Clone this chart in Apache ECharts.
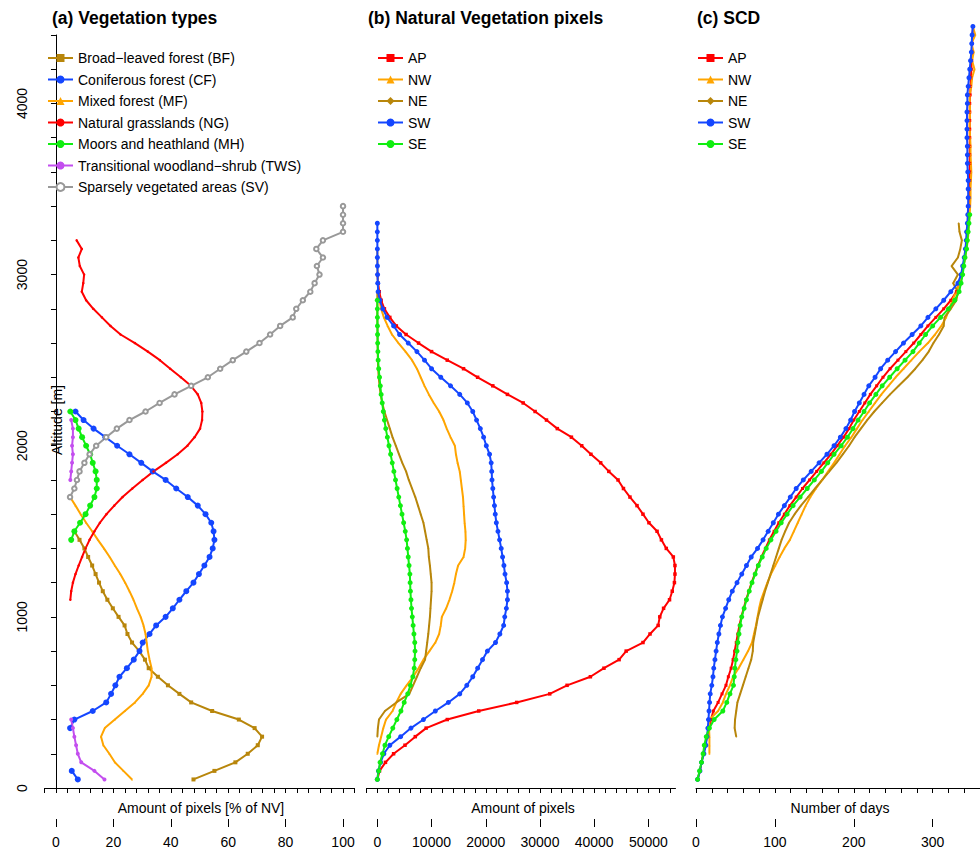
<!DOCTYPE html>
<html><head><meta charset="utf-8">
<script src="https://cdn.jsdelivr.net/npm/echarts@6/dist/echarts.min.js"></script>
<style>html,body{margin:0;padding:0;background:#fff}#c{width:980px;height:852px}</style>
</head><body><div id="c"></div><script>
// Altitude levels [m]
const ALT = [50,100,150,200,250,300,350,400,450,500,550,600,650,700,750,800,850,900,950,1000,
1050,1100,1150,1200,1250,1300,1350,1400,1450,1500,1550,1600,1650,1700,1750,1800,1850,1900,1950,2000,
2050,2100,2150,2200,2250,2300,2350,2400,2450,2500,2550,2600,2650,2700,2750,2800,2850,2900,2950,3000,
3050,3100,3150,3200,3250,3300,3350,3400,3450,3500,3550,3600,3650,3700,3750,3800,3850,3900,3950,4000,
4050,4100,4150,4200,4250,4300,4350,4400,4450];

// (a) Vegetation types, % of NV (start altitude, values every 50 m)
const BF_start = 50;
const BF = [47.9,55.2,62.5,66.8,70.3,71.8,69.2,63.7,54.4,47.1,43.0,39.0,35.5,32.3,31.0,29.0,26.5,24.9,23.9,21.8,
19.8,17.9,16.3,15.0,13.8,12.6,11.2,9.9,8.2,6.4];
const CF_start = 50;
const CF = [7.6,5.5,null,null,null,null,4.9,6.4,12.8,17.5,19.2,20.7,22.1,24.7,27.1,29.1,30.2,32.6,34.9,38.2,
40.7,43.0,45.4,47.9,49.8,51.7,53.5,54.6,55.2,54.9,54.1,52.1,49.4,45.9,41.9,38.2,33.7,29.7,25.6,21.3,17.2,13.1,9.6,6.8];
const MF_start = 50;
const MF = [26.5,23.5,20.5,18.6,16.5,15.7,17.0,20.5,24.0,27.5,30.2,32.3,33.3,33.3,32.6,32.0,31.6,31.2,30.5,29.5,
28.2,27.0,25.6,24.1,22.4,20.5,18.7,16.7,14.6,12.6,10.5,8.6,6.8,4.9];
const NG_start = 1100;
const NG = [5.0,5.3,5.9,6.8,7.9,9.1,10.3,11.7,13.4,15.3,17.6,20.3,23.2,26.6,30.2,34.0,38.3,42.4,45.8,48.3,
50.2,50.9,51.0,50.6,49.4,47.0,43.5,39.8,36.2,32.0,27.5,22.5,19.0,16.0,13.0,10.5,9.0,9.5,9.8,8.3,7.8,9.0,7.2];
const MH_start = 1450;
const MH = [5.3,6.4,8.4,10.3,11.9,13.4,14.2,14.2,13.8,12.8,11.9,10.5,9.1,7.9,6.8,5.0];
const TWS_start = 50;
const TWS = [16.9,13.4,8.8,7.6,7.0,6.4,5.9,5.3,
null,null,null,null,null,null,null,null,null,null,null,null,null,null,null,null,null,null,null,null,null,null,null,null,null,null,null,
5.0,5.3,5.6,5.9,5.6,5.9,5.9,5.3];
const SV_start = 1700;
const SV = [4.9,6.4,7.3,8.2,9.9,11.7,14.0,17.5,21.2,25.6,31.2,36.1,41.3,47.1,52.9,57.2,61.6,66.3,70.9,74.6,
78.1,82.5,83.7,86.0,88.6,90.1,91.8,90.9,93.0,90.7,93.0,100,100,100,100];

// (b) Natural vegetation pixels
const AP_b_start = 50;
const AP_b = [0,400,1500,3000,5100,7000,9000,12900,18700,25700,31800,35000,39300,41800,44600,45900,49000,50300,51800,52100,
52800,53900,54400,54800,54900,54900,54600,53300,52400,51600,50100,49000,47900,46600,45400,44400,42700,41200,39400,37700,
35800,33200,31200,29100,26900,24000,21300,18500,15900,12900,10000,7600,5300,3500,2300,1300,700,350,150,50];
const NW_b_start = 200;
const NW_b = [0,300,700,1100,1600,2800,3500,4300,5400,6600,7600,8500,9600,10700,11400,11700,11900,12700,13300,13800,
14200,14500,14900,15900,16200,16300,16250,16100,16000,15900,15800,15600,15400,15200,14800,14500,14300,13500,12800,12200,
11400,10400,9500,8700,8000,7300,6400,5200,3900,2700,1900,1200,700,400,200,100,50,20,10,0];
const NE_b_start = 300;
const NE_b = [0,100,300,1400,3500,5900,6600,7300,8000,8800,9000,9200,9400,9550,9700,9800,9900,10000,10000,9850,
9700,9500,9400,9100,8800,8500,8000,7500,7000,6400,5800,5300,4600,4000,3400,2800,2300,1800,1300,900,
600,400,250,150,100,70,50,30,20,10,5,0,0];
const SW_b_start = 50;
const SW_b = [0,200,600,1200,2300,4300,6200,8500,10700,13100,15200,16500,17600,18500,19400,20300,21800,22600,23300,23500,
23800,24000,24000,23850,23550,23350,23100,22850,22550,22250,21950,21750,21600,21450,21300,21150,21100,21000,20700,20100,
19600,19000,18300,17600,16600,15200,13500,11700,10000,8700,7300,5700,4100,3000,1800,1000,450,150,80,40,20,10,5,2,1,0];
const SE_b_start = 50;
const SE_b = [0,250,500,950,1400,2100,2850,3600,4350,4950,5600,6100,6550,6800,6900,6950,6900,6750,6600,6450,
6300,6200,6100,6050,6000,5850,5700,5550,5400,5150,4850,4550,4250,3950,3650,3350,3050,2750,2450,2150,
1850,1550,1300,1100,900,700,550,400,250,150,100,60,40,20,10,5,0];

// (c) SCD, number of days
const AP_c_start = 50;
const AP_c = [2,5,7,9.5,11.5,14,17,19,22,28,33,38,41,44.5,47,49,51,53,55,57.5,
60.5,63.5,67,70.5,74.5,78.5,83,88,93,99,105,112,119,127,135,144,153,162,171,179,
187,194,200,207,214,221,229,237,246,256,266,276,285,294,304,314,323,330,334,337,
339,341,342,343,344,345,345.5,346,346,346.5,347,347,347,347,347,347,347,347,347,347,
347.5,348,348.5,349,349.5,350,350,350.5,351];
const NW_c_start = 200;
const NW_c = [17,17,17,16.5,17,28,34,38,43,47,54,60,66,71,73.5,76,78,80,82.5,86.5,
90.5,95,100.5,106,112,119,124,129,134,139,145,152,160,167.5,175,182,189,197,204,211,
219,227,235,244,253,263,273,283,294,303,311,317,321,325,330,334,337,339,341,343,
344.5,345.5,346,347,347.5,348,348,348.5,349,348.5,348,348,347.5,347,347,347.5,347,347,349,350,
353,350,352,349,354,351];
const NE_c_start = 300;
const NE_c = [51,49,49.5,51,52.5,56,59.5,63,66.5,70,72,72.5,74.5,76.5,78.5,81.5,84.5,87.5,91,94.5,
98,101.5,105,108.5,113,118,125,133,142,151,160,169,178,186,194,201,209,217,226,236,
246,257,268,278,287,295,301,308,314,315,323,330,332,326,332,324,332,335,337,334,333];
const SW_c_start = 50;
const SW_c = [2,5,7,10,12.5,14,15,15.8,16.5,17.2,18,20,21.5,22.5,24,25.5,27,29,31,33.5,
37.5,41.5,46,52,58,64,70,78,85,91.5,98,104.5,112,119.5,127,136,146,156,166,175,
183,190,196,201,207,213,219,227,234,243,253,263,274,285,294,304,314,323,332,336,
338,340,341.5,342.5,343,344,344.5,345,345,345,345,344.5,344,344,344,343.5,343.5,343.5,343.5,344,
344,345,346,347,348,349,349.5,350,351];
const SE_c_start = 50;
const SE_c = [2,4.5,7,9,10.5,13,17,23,34,39,43,47.5,48.5,49.3,50.5,52,53,54.5,56,58,
61,64,67.5,71,75,79,84,89,95,101.5,108,115.5,123,132,141,150,159,167,175,184,
192,199,205.5,213,220,228,236,245.5,255,265,275,283,291,300,310,320,328,333.5,336,338,
339.5,341,343,344,345,346,347];

// Axis ticks / labels
const Y_TICKS_LABELS = [0,1000,2000,3000,4000];
const XA_TICKS = [-4,0,4,8,12,16,20,24,28,32,36,40,44,48,52,56,60,64,68,72,76,80,84,88,92,96,100,104];
const XA_MAJOR = [0,20,40,60,80,100];
const XB_TICKS = [-2000,0,2000,4000,6000,8000,10000,12000,14000,16000,18000,20000,22000,24000,26000,28000,30000,
32000,34000,36000,38000,40000,42000,44000,46000,48000,50000,52000,54000];
const XB_MAJOR = [0,10000,20000,30000,40000,50000];
const XC_TICKS = [0,20,40,60,80,100,120,140,160,180,200,220,240,260,280,300,320,340,360];
const XC_MAJOR = [0,100,200,300];

const FONT = '"Liberation Sans", Arial, Helvetica, sans-serif';
const C = {gold:'#B8860B', blue:'#1446FF', orange:'#FFA500', red:'#FF0000', green:'#11EE11', purple:'#C34EEF', gray:'#999999'};

function pts(start, vals){
  const i0 = ALT.indexOf(start);
  return vals.map((v,i)=> v===null ? ['-', ALT[i0+i]] : [v, ALT[i0+i]]);
}
function ser(name, xi, start, vals, color, symbol, size, extraItem){
  return {
    type:'line', name:name, xAxisIndex:xi, yAxisIndex:xi/2, data:pts(start, vals),
    symbol:symbol, symbolSize:size, showSymbol:true, showAllSymbol:true, connectNulls:false,
    clip:false, silent:true, animation:false,
    lineStyle:{color:color, width:2}, itemStyle:Object.assign({color:color, borderWidth:0}, extraItem||{}),
    emphasis:{disabled:true}
  };
}
function xaxes(gi, min, max, ticks, major){
  const base = {type:'value', gridIndex:gi, min:min, max:max, position:'bottom', offset:31, splitLine:{show:false}};
  return [
    Object.assign({}, base, {axisLine:{show:true, lineStyle:{color:'#000', width:1}},
      axisTick:{show:true, customValues:ticks, length:5, lineStyle:{color:'#000', width:1}},
      axisLabel:{show:false}}),
    Object.assign({}, base, {axisLine:{show:false},
      axisTick:{show:true, customValues:major, length:8, lineStyle:{color:'#000', width:1}},
      axisLabel:{show:true, customValues:major, formatter:v=>String(v), margin:16, fontSize:14, color:'#000', fontFamily:FONT}})
  ];
}
const yBase = {type:'value', min:0, max:4400, interval:200, splitLine:{show:false}};
const legendBase = {orient:'vertical', top:51, padding:0, itemWidth:25, itemHeight:10, itemGap:7.5,
  textStyle:{fontSize:14, lineHeight:14, color:'#000', fontFamily:FONT}, selectedMode:false};

const option = {
  backgroundColor:'#fff',
  animation:false,
  grid:[
    {left:44.5, width:310, top:35, bottom:64},
    {left:366.5, width:309, top:35, bottom:64},
    {left:696, width:284, top:35, bottom:64}
  ],
  xAxis:[].concat(
    xaxes(0,-4,104,XA_TICKS,XA_MAJOR),
    xaxes(1,-2000,55000,XB_TICKS,XB_MAJOR),
    xaxes(2,0,360,XC_TICKS,XC_MAJOR)
  ),
  yAxis:[
    Object.assign({}, yBase, {gridIndex:0, axisLine:{show:true, lineStyle:{color:'#000', width:1}},
      axisTick:{show:true, length:5, lineStyle:{color:'#000', width:1}},
      axisLabel:{customValues:Y_TICKS_LABELS, rotate:90, margin:16, fontSize:14, color:'#000', fontFamily:FONT, formatter:v=>String(v)}}),
    Object.assign({}, yBase, {gridIndex:1, show:false}),
    Object.assign({}, yBase, {gridIndex:2, show:false})
  ],
  legend:[
    Object.assign({}, legendBase, {left:47, data:['Broad\u2212leaved forest (BF)','Coniferous forest (CF)','Mixed forest (MF)','Natural grasslands (NG)','Moors and heathland (MH)','Transitional woodland\u2212shrub (TWS)','Sparsely vegetated areas (SV)']}),
    Object.assign({}, legendBase, {left:377, data:['AP','NW','NE','SW','SE']}),
    Object.assign({}, legendBase, {left:697, data:['AP','NW','NE','SW','SE']})
  ],
  graphic:[
    {type:'text', x:52, y:18, style:{text:'(a) Vegetation types', font:'bold 17.5px '+FONT, fill:'#000', verticalAlign:'middle'}},
    {type:'text', x:368, y:18, style:{text:'(b) Natural Vegetation pixels', font:'bold 17.5px '+FONT, fill:'#000', verticalAlign:'middle'}},
    {type:'text', x:697, y:18, style:{text:'(c) SCD', font:'bold 17.5px '+FONT, fill:'#000', verticalAlign:'middle'}},
    {type:'text', x:201, y:808, style:{text:'Amount of pixels [% of NV]', font:'14px '+FONT, fill:'#000', align:'center', verticalAlign:'middle'}},
    {type:'text', x:523, y:808, style:{text:'Amount of pixels', font:'14px '+FONT, fill:'#000', align:'center', verticalAlign:'middle'}},
    {type:'text', x:840, y:808, style:{text:'Number of days', font:'14px '+FONT, fill:'#000', align:'center', verticalAlign:'middle'}},
    {type:'text', x:57, y:420, rotation:Math.PI/2, style:{text:'Altitude [m]', font:'14px '+FONT, fill:'#000', align:'center', verticalAlign:'middle'}}
  ],
  series:[
    ser('Broad\u2212leaved forest (BF)',0,BF_start,BF,C.gold,'rect',4),
    ser('Coniferous forest (CF)',0,CF_start,CF,C.blue,'circle',6),
    ser('Mixed forest (MF)',0,MF_start,MF,C.orange,'triangle',2),
    ser('Natural grasslands (NG)',0,NG_start,NG,C.red,'circle',2.5),
    ser('Moors and heathland (MH)',0,MH_start,MH,C.green,'circle',6),
    ser('Transitional woodland\u2212shrub (TWS)',0,TWS_start,TWS,C.purple,'circle',4),
    ser('Sparsely vegetated areas (SV)',0,SV_start,SV,C.gray,'emptyCircle',4.5,{borderWidth:1.5}),
    ser('AP',2,AP_b_start,AP_b,C.red,'rect',3.5),
    ser('NW',2,NW_b_start,NW_b,C.orange,'triangle',2),
    ser('NE',2,NE_b_start,NE_b,C.gold,'diamond',2),
    ser('SW',2,SW_b_start,SW_b,C.blue,'circle',5),
    ser('SE',2,SE_b_start,SE_b,C.green,'circle',5),
    ser('AP',4,AP_c_start,AP_c,C.red,'rect',3),
    ser('NW',4,NW_c_start,NW_c,C.orange,'triangle',2),
    ser('NE',4,NE_c_start,NE_c,C.gold,'diamond',2),
    ser('SW',4,SW_c_start,SW_c,C.blue,'circle',5),
    ser('SE',4,SE_c_start,SE_c,C.green,'circle',5)
  ]
};
const chart = echarts.init(document.getElementById('c'), null, {renderer:'svg', width:980, height:852});
chart.setOption(option);
</script></body></html>
